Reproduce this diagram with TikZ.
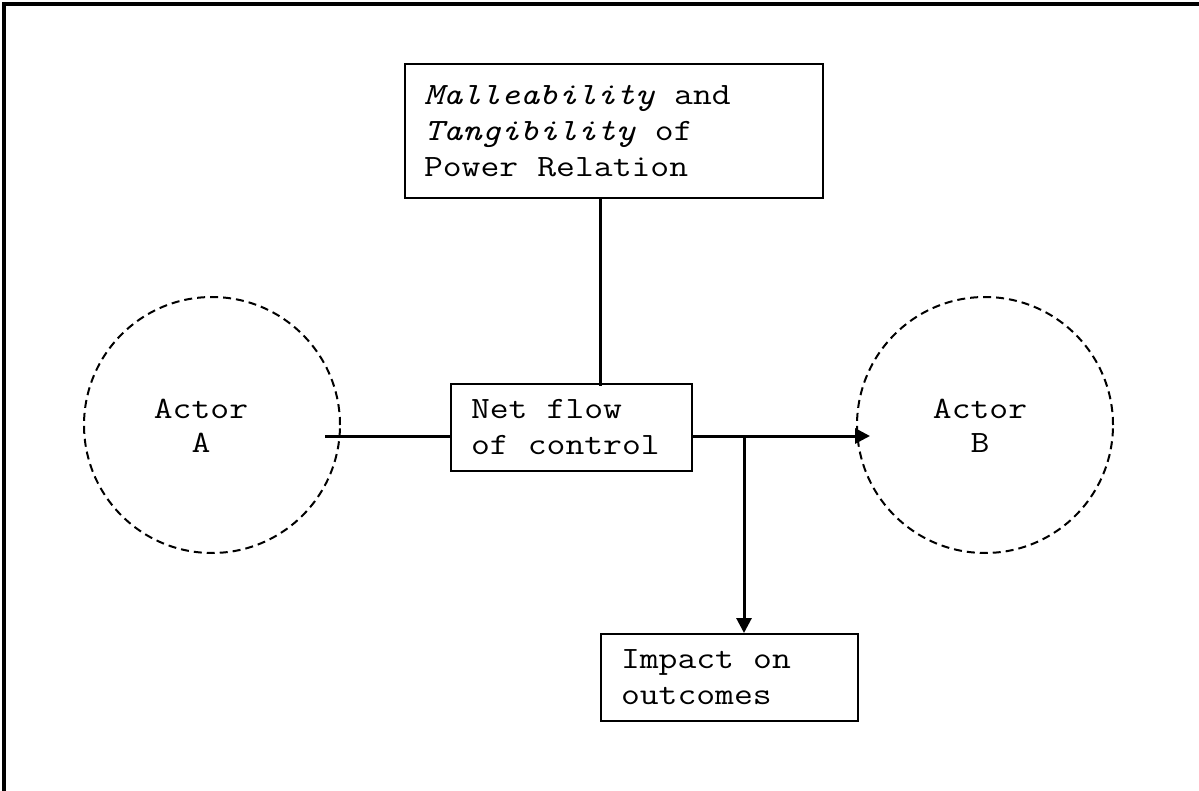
\documentclass[tikz,border=0pt]{standalone}
\usepackage{fontspec}
\setmainfont{Latin Modern Mono}[FakeStretch=1.18]
\newcommand{\wsp}{\hspace{0.6195em}}
\usetikzlibrary{arrows.meta,calc}
\begin{document}
\begin{tikzpicture}[x=1pt,y=-1pt,
  box/.style={draw, line width=2pt, rectangle, align=left, inner xsep=19pt, inner ysep=0pt,
    font=\fontsize{31}{36}\selectfont, anchor=north west},
  actor/.style={draw, circle, line width=2pt, dash pattern=on 8pt off 5pt, minimum size=256pt, inner sep=0pt},
  actortext/.style={align=center, font=\fontsize{31}{34}\selectfont},
  conn/.style={line width=3pt},
  arr/.style={line width=3pt, -{Triangle[length=15pt,width=15pt]}}]
\useasboundingbox (0,0) rectangle (1199,791);
\draw[line width=4pt] (4,791) -- (4,4) -- (1199,4);
% boxes
\node[box, minimum width=418pt, minimum height=134pt, text width=380pt] (power) at (404,63)
  {\textit{Malleability}\wsp{}and\\\textit{Tangibility}\wsp{}of\\Power\wsp{}Relation};
\node[box, minimum width=241pt, minimum height=87pt, text width=201pt, inner xsep=20pt] (net) at (450,383)
  {Net\wsp{}flow\\of\wsp{}control};
\node[box, minimum width=257pt, minimum height=87pt, text width=217pt, inner xsep=20pt] (impact) at (600,633)
  {Impact\wsp{}on\\outcomes};
% actors
\node[actor] (A) at (212,425) {};
\node[actortext] (Atext) at (201,426) {Actor\\A};
\node[actor] (B) at (985,425) {};
\node[actortext] (Btext) at (980,426) {Actor\\B};
% connectors
\coordinate (vx) at (600,300);
\coordinate (Astart) at (325,436);
\coordinate (Btip) at (870,436);
\coordinate (branch) at (744,436);
\draw[conn] (power.south -| vx) -- ([yshift=-3pt]net.north -| vx);
\draw[conn] (Astart) -- (Astart -| net.west);
\draw[arr] (Btip -| net.east) -- (Btip);
\draw[arr] (branch) -- (branch |- impact.north);
\end{tikzpicture}
\end{document}
